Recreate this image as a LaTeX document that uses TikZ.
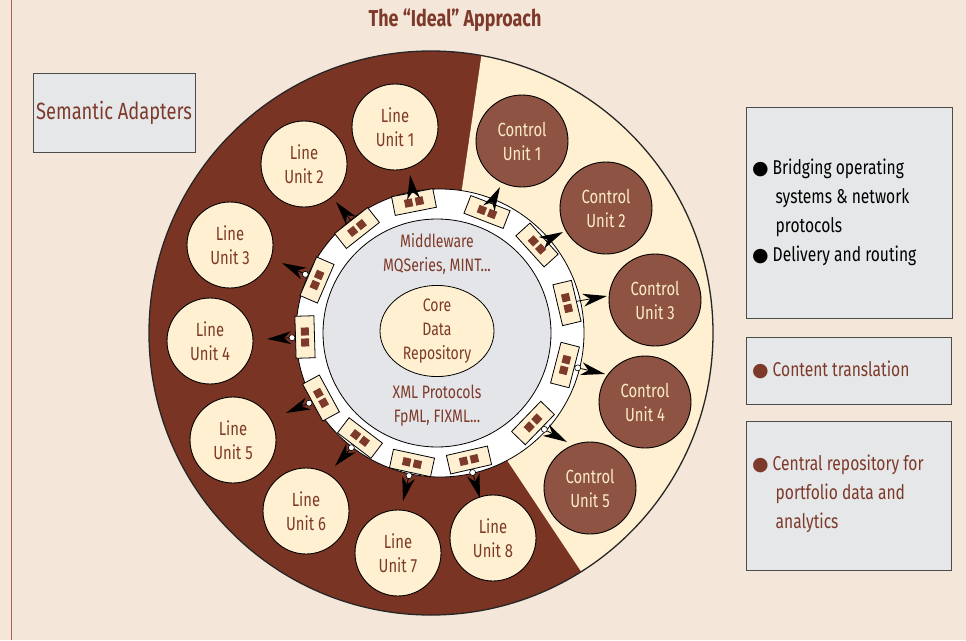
\documentclass[tikz,border=0pt]{standalone}
\usepackage{fontspec}
\setmainfont{Fira Sans}[FakeStretch=0.78]
\newfontfamily\dejavu{DejaVu Sans}
\usetikzlibrary{arrows.meta,calc,shapes.geometric}
\definecolor{bg}{HTML}{F5E6DA}
\definecolor{dbrown}{HTML}{7A3424}
\definecolor{cream}{HTML}{FEF0D0}
\definecolor{cbrown}{HTML}{8E5342}
\definecolor{ctext}{HTML}{FCEBC8}
\definecolor{tbrown}{HTML}{7D3A2A}
\definecolor{boxgray}{HTML}{E6E7E9}
\definecolor{diskgray}{HTML}{E4E5E8}
\definecolor{edge}{HTML}{B06055}
\newcommand\sqs{{\color{tbrown}\rule{8pt}{8pt}\hspace{3pt}\rule{8pt}{8pt}}}
\newcommand\bul{\makebox[20.5pt][l]{\dejavu\fontsize{19}{19}\selectfont ●}}
% connector from adapter #1 to tip coordinate #2 with a large dart head
\newcommand\dartlink[2]{%
  \draw[conn] (#1) -- ($(#2)!15pt!(#1)$);
  \fill[black] let \p1=($(#1)-(#2)$), \n1={atan2(\y1,\x1)} in
    (#2) -- ($(#2)+(\n1+15:25pt)$) -- ($(#2)!17pt!(#1)$) -- ($(#2)+(\n1-15:25pt)$) -- cycle;}
\newcommand\ringmark[2]{%
  \draw[line width=0.6pt, fill=white] ($(#1)!13pt!(#2)$) circle [radius=3pt];}
\begin{document}
\begin{tikzpicture}[x=1pt,y=-1pt,
  lunit/.style={circle, draw=black, line width=0.9pt, fill=cream, text=tbrown, minimum size=86pt, inner sep=0pt, align=center, font=\fontsize{19}{24}\selectfont},
  cunit/.style={lunit, fill=cbrown, text=ctext, minimum size=92pt},
  adapter/.style={rectangle, draw=black, line width=0.8pt, fill=cream, minimum width=42pt, minimum height=19pt, inner sep=0pt},
  conn/.style={line width=0.8pt, draw=black},
  graybox/.style={rectangle, draw=black!70, line width=1pt, fill=boxgray, inner sep=0pt},
  midtext/.style={text=tbrown, align=center, font=\fontsize{18}{24}\selectfont},
  boxtext/.style={anchor=west, align=left, inner sep=0pt, font=\fontsize{20}{29}\selectfont}
]
\useasboundingbox (0,0) rectangle (966,640);
\fill[bg] (0,0) rectangle (966,640);
\draw[edge, line width=0.8pt] (11,0) -- (11,640);

% title
\node[text=tbrown, font=\bfseries\fontsize{23}{27}\selectfont] (title) at (455,20) {The “Ideal” Approach};

% big disc with sectors
\begin{scope}
  \clip (431,333) circle [radius=282pt];
  \fill[dbrown] (431,333) circle [radius=282pt];
  \fill[cream] (437.6,356) -- (501,-79) -- (800,-79) -- (800,700) -- (666.7,700) -- cycle;
\end{scope}
\draw[black!85, line width=1.3pt] (431,333) circle [radius=282pt];

% ring and disk
\draw[black, line width=0.8pt, fill=white] (440,333) circle [radius=144pt];
\draw[black, line width=0.8pt, fill=diskgray] (437,333) circle [radius=114pt];
\node[draw=black, line width=0.8pt, fill=cream, ellipse, minimum width=114pt, minimum height=84pt, inner sep=0pt, midtext] (core) at (437,331) {Core\\Data\\Repository};
\node[midtext] (mw) at (437,254) {Middleware\\MQSeries, MINT...};
\node[midtext] (xml) at (437,406) {XML Protocols\\FpML, FIXML...};

% semantic adapters box
\node[graybox, minimum width=162pt, minimum height=79pt, text=tbrown, font=\fontsize{23.5}{28}\selectfont] (sa) at (114,112.5) {Semantic Adapters};

% line units
\node[lunit] (L1) at (395,127) {Line\\Unit 1};
\node[lunit] (L2) at (304,164) {Line\\Unit 2};
\node[lunit] (L3) at (230,245) {Line\\Unit 3};
\node[lunit] (L4) at (210,341) {Line\\Unit 4};
\node[lunit] (L5) at (233,440) {Line\\Unit 5};
\node[lunit] (L6) at (306,511) {Line\\Unit 6};
\node[lunit] (L7) at (398,553) {Line\\Unit 7};
\node[lunit] (L8) at (493,538) {Line\\Unit 8};

% control units
\node[cunit] (C1) at (522,141) {Control\\Unit 1};
\node[cunit] (C2) at (606,208) {Control\\Unit 2};
\node[cunit] (C3) at (655,300) {Control\\Unit 3};
\node[cunit] (C4) at (645,402) {Control\\Unit 4};
\node[cunit] (C5) at (590,488) {Control\\Unit 5};

% adapters
\node[adapter, rotate=11.2]  (a1)  at (414,202) {\sqs};
\node[adapter, rotate=-21.2] (a2)  at (487,212) {\sqs};
\node[adapter, rotate=-47.8] (a3)  at (537,245) {\sqs};
\node[adapter, rotate=-76.7] (a4)  at (567,303) {\sqs};
\node[adapter, rotate=75.6]  (a5)  at (565,365) {\sqs};
\node[adapter, rotate=46]    (a6)  at (533,423) {\sqs};
\node[adapter, rotate=12.9]  (a7)  at (469,460) {\sqs};
\node[adapter, rotate=-12.2] (a8)  at (412,463) {\sqs};
\node[adapter, rotate=-37.3] (a9)  at (360,438) {\sqs};
\node[adapter, rotate=-61.4] (a10) at (321,398) {\sqs};
\node[adapter, rotate=-88.3] (a11) at (305,337) {\sqs};
\node[adapter, rotate=66.7]  (a12) at (317,280) {\sqs};
\node[adapter, rotate=38.3]  (a13) at (357,228) {\sqs};

% arrow tips (free ends, next to the units)
\coordinate (t1) at (410,175);
\coordinate (t2) at (500,187);
\coordinate (t3) at (563,232);
\coordinate (t4) at (607,296);
\coordinate (t5) at (605,374);
\coordinate (t6) at (567,442);
\coordinate (t7) at (480,498);
\coordinate (t8) at (403,501);
\coordinate (t9) at (335,466);
\coordinate (t10) at (286,413);
\coordinate (t11) at (267,339);
\coordinate (t12) at (282,263);
\coordinate (t13) at (336,202);

\dartlink{a1}{t1}
\dartlink{a2}{t2}
\dartlink{a3}{t3}
\dartlink{a4}{t4}
\dartlink{a5}{t5}
\dartlink{a6}{t6}
\dartlink{a7}{t7}
\dartlink{a8}{t8}
\dartlink{a9}{t9}
\dartlink{a10}{t10}
\dartlink{a11}{t11}
\dartlink{a12}{t12}
\dartlink{a13}{t13}
\ringmark{a5}{t5}
\ringmark{a6}{t6}
\ringmark{a7}{t7}
\ringmark{a8}{t8}
\ringmark{a9}{t9}
\ringmark{a10}{t10}
\ringmark{a11}{t11}
\ringmark{a12}{t12}

% right boxes
\node[graybox, minimum width=206pt, minimum height=211pt] (b1) at (849,212.5) {};
\node[boxtext, text=black] (b1t) at (752,212) {\bul Bridging operating\\\hspace*{23.5pt}systems \& network\\\hspace*{23.5pt}protocols\\\bul Delivery and routing};
\node[graybox, minimum width=205pt, minimum height=67pt] (b2) at (848.5,370.5) {};
\node[boxtext, text=tbrown] (b2t) at (752,370) {\bul Content translation};
\node[graybox, minimum width=205pt, minimum height=149pt] (b3) at (848.5,495.5) {};
\node[boxtext, text=tbrown] (b3t) at (752,494) {\bul Central repository for\\\hspace*{23.5pt}portfolio data and\\\hspace*{23.5pt}analytics};
\end{tikzpicture}
\end{document}
